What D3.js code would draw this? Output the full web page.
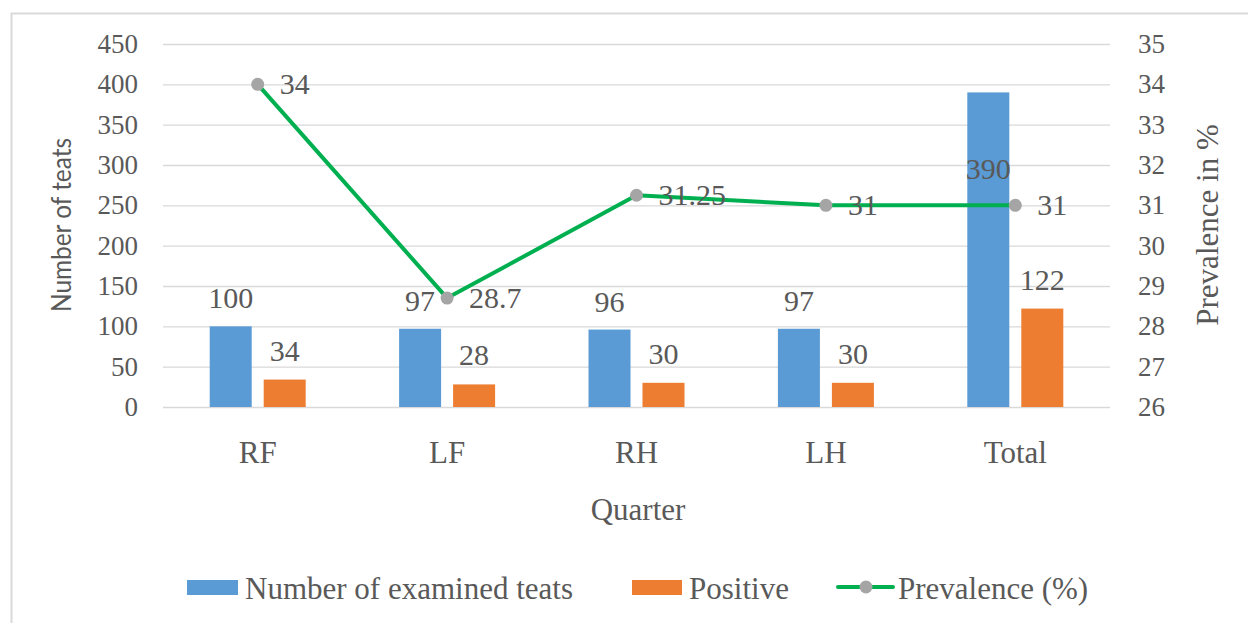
<!DOCTYPE html>
<html>
<head>
<meta charset="utf-8">
<script src="https://cdn.jsdelivr.net/npm/d3@7"></script>
<style>
  body { margin: 0; background: #fff; }
  text { fill: #595959; }
</style>
</head>
<body>
<div class="chart"></div>
<script>
let categories = ['RF', 'LF', 'RH', 'LH', 'Total'];
let examined = [100, 97, 96, 97, 390];
let positive = [34, 28, 30, 30, 122];
let prevalence = [34, 28.7, 31.25, 31, 31];
let prevalenceLabels = ['34', '28.7', '31.25', '31', '31'];
let leftTicks = [0, 50, 100, 150, 200, 250, 300, 350, 400, 450];
let rightTicks = [26, 27, 28, 29, 30, 31, 32, 33, 34, 35];

let fullWidth = 1248;
let fullHeight = 623;
let margin = {top: 44, right: 138, bottom: 216, left: 163};
let width = fullWidth - margin.left - margin.right;
let height = fullHeight - margin.top - margin.bottom;

let serif = '"Liberation Serif", "Times New Roman", serif';

let root = d3.select('.chart')
  .append('svg')
    .attr('width', fullWidth)
    .attr('height', fullHeight);

// chart frame (only top + left edges visible in the crop)
root.append('rect')
  .attr('x', 11.5)
  .attr('y', 13.5)
  .attr('width', fullWidth + 20)
  .attr('height', fullHeight + 20)
  .style('fill', 'none')
  .style('stroke', '#d9d9d9')
  .style('stroke-width', 2);

let svg = root.append('g')
  .attr('transform', `translate(${margin.left}, ${margin.top})`);

let xScale = d3.scaleBand()
  .domain(categories)
  .range([0, width]);

let xInner = d3.scaleBand()
  .domain(['examined', 'positive'])
  .range([0, xScale.bandwidth()])
  .paddingInner(0.222)
  .paddingOuter(0.865);

let yLeft = d3.scaleLinear()
  .domain([0, 450])
  .range([height, 0]);

let yRight = d3.scaleLinear()
  .domain([26, 35])
  .range([height, 0]);

// gridlines
svg.append('g')
  .call(d3.axisLeft(yLeft).tickValues(leftTicks).tickSize(-width).tickFormat(''))
  .call(g => g.select('.domain').remove())
  .call(g => g.selectAll('line').style('stroke', '#d9d9d9').style('stroke-width', 1.3));

// left axis
svg.append('g')
  .call(d3.axisLeft(yLeft).tickValues(leftTicks).tickSize(0).tickPadding(25))
  .call(g => g.select('.domain').remove())
  .call(g => g.selectAll('text')
    .style('font-family', serif)
    .style('font-size', '27px')
    .style('fill', '#595959'));

// right axis
svg.append('g')
  .attr('transform', `translate(${width}, 0)`)
  .call(d3.axisRight(yRight).tickValues(rightTicks).tickSize(0).tickPadding(28))
  .call(g => g.select('.domain').remove())
  .call(g => g.selectAll('text')
    .style('font-family', serif)
    .style('font-size', '27px')
    .style('fill', '#595959'));

// category axis
svg.append('g')
  .attr('transform', `translate(0, ${height})`)
  .call(d3.axisBottom(xScale).tickSize(0).tickPadding(34))
  .call(g => g.select('.domain').remove())
  .call(g => g.selectAll('text')
    .style('font-family', serif)
    .style('font-size', '31px')
    .style('fill', '#595959'));

// bars
let groups = svg.selectAll('.group')
  .data(categories)
  .enter()
  .append('g')
    .attr('class', 'group')
    .attr('transform', d => `translate(${xScale(d)}, 0)`);

groups.append('rect')
  .attr('x', xInner('examined'))
  .attr('y', (d, i) => yLeft(examined[i]))
  .attr('width', xInner.bandwidth())
  .attr('height', (d, i) => height - yLeft(examined[i]))
  .style('fill', '#5B9BD5');

groups.append('rect')
  .attr('x', xInner('positive'))
  .attr('y', (d, i) => yLeft(positive[i]))
  .attr('width', xInner.bandwidth())
  .attr('height', (d, i) => height - yLeft(positive[i]))
  .style('fill', '#ED7D31');

// bar labels (the Total one sits inside its bar in the original)
groups.append('text')
  .attr('x', xInner('examined') + xInner.bandwidth() / 2)
  .attr('y', (d, i) => d === 'Total' ? yLeft(examined[i]) + 87 : yLeft(examined[i]) - 18)
  .attr('text-anchor', 'middle')
  .style('font-family', serif)
  .style('font-size', '30px')
  .text((d, i) => examined[i]);

groups.append('text')
  .attr('x', xInner('positive') + xInner.bandwidth() / 2)
  .attr('y', (d, i) => yLeft(positive[i]) - 19)
  .attr('text-anchor', 'middle')
  .style('font-family', serif)
  .style('font-size', '30px')
  .text((d, i) => positive[i]);

// prevalence line
let cx = d => xScale(d) + xScale.bandwidth() / 2;
let line = d3.line()
  .x(d => cx(d))
  .y((d, i) => yRight(prevalence[i]));

svg.append('path')
  .datum(categories)
  .attr('d', line)
  .style('fill', 'none')
  .style('stroke', '#00B050')
  .style('stroke-width', 4)
  .style('stroke-linejoin', 'round');

svg.selectAll('.dot')
  .data(categories)
  .enter()
  .append('circle')
    .attr('class', 'dot')
    .attr('cx', d => cx(d))
    .attr('cy', (d, i) => yRight(prevalence[i]))
    .attr('r', 6.5)
    .style('fill', '#A5A5A5');

svg.selectAll('.dot-label')
  .data(categories)
  .enter()
  .append('text')
    .attr('class', 'dot-label')
    .attr('x', d => cx(d) + 22)
    .attr('y', (d, i) => yRight(prevalence[i]) + 10)
    .style('font-family', serif)
    .style('font-size', '30px')
    .text((d, i) => prevalenceLabels[i]);

// axis titles
root.append('text')
  .attr('transform', 'translate(71, 225) rotate(-90)')
  .attr('text-anchor', 'middle')
  .attr('textLength', 174)
  .attr('lengthAdjust', 'spacingAndGlyphs')
  .style('font-family', 'Lato, "Open Sans", sans-serif')
  .style('font-size', '26px')
  .text('Number of teats');

root.append('text')
  .attr('transform', 'translate(1218, 225) rotate(-90)')
  .attr('text-anchor', 'middle')
  .style('font-family', serif)
  .style('font-size', '31px')
  .text('Prevalence in %');

root.append('text')
  .attr('x', 638)
  .attr('y', 520)
  .attr('text-anchor', 'middle')
  .style('font-family', serif)
  .style('font-size', '31px')
  .text('Quarter');

// legend
let legend = root.append('g');
legend.append('rect').attr('x', 187).attr('y', 580).attr('width', 51).attr('height', 15).style('fill', '#5B9BD5');
legend.append('text').attr('x', 245).attr('y', 599)
  .style('font-family', serif).style('font-size', '31px')
  .text('Number of examined teats');

legend.append('rect').attr('x', 632).attr('y', 580).attr('width', 50).attr('height', 15).style('fill', '#ED7D31');
legend.append('text').attr('x', 689).attr('y', 599)
  .style('font-family', serif).style('font-size', '31px')
  .text('Positive');

legend.append('line').attr('x1', 838).attr('x2', 893).attr('y1', 587).attr('y2', 587)
  .style('stroke', '#00B050').style('stroke-width', 4).style('stroke-linecap', 'round');
legend.append('circle').attr('cx', 866).attr('cy', 587).attr('r', 6.5).style('fill', '#A5A5A5');
legend.append('text').attr('x', 898).attr('y', 599)
  .style('font-family', serif).style('font-size', '31px')
  .text('Prevalence (%)');
</script>
</body>
</html>
